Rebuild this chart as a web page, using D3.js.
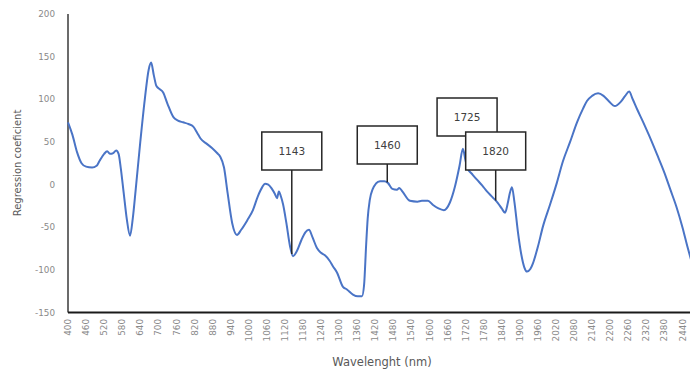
<!DOCTYPE html>
<html>
<head>
<meta charset="utf-8">
<script src="https://cdn.jsdelivr.net/npm/d3@7/dist/d3.min.js"></script>
<style>
  html, body { margin: 0; padding: 0; background: #ffffff; }
  svg { display: block; }
</style>
</head>
<body>
<div id="chart"></div>
<script>
// Regression coefficients across the NIR spectrum
const wavelengths = [
  400, 415, 430, 445, 460, 480, 495, 505, 520, 530, 540, 550, 560, 568, 575, 585, 595, 606, 615, 625,
  640, 655, 668, 676, 685, 693, 700, 716, 730, 750, 765, 782, 800, 816, 830, 840, 860, 878, 895, 905,
  918, 930, 945, 961, 975, 995, 1014, 1030, 1045, 1054, 1065, 1077, 1087, 1094, 1100, 1107, 1114, 1125, 1137, 1147,
  1160, 1175, 1188, 1200, 1212, 1226, 1240, 1253, 1268, 1280, 1293, 1313, 1326, 1346, 1362, 1376, 1383, 1390, 1395, 1402,
  1412, 1422, 1436, 1450, 1462, 1477, 1492, 1500, 1510, 1535, 1560, 1575, 1595, 1612, 1630, 1648, 1668, 1685, 1700, 1711,
  1720, 1728, 1740, 1757, 1775, 1791, 1810, 1828, 1840, 1851, 1860, 1867, 1874, 1882, 1894, 1905, 1915, 1924, 1935, 1944,
  1960, 1977, 2000, 2023, 2043, 2067, 2090, 2110, 2123, 2140, 2160, 2178, 2195, 2216, 2235, 2250, 2263, 2275, 2290, 2310,
  2330, 2356, 2380, 2400, 2420, 2440, 2456, 2470, 2490
];
const coefficients = [
  73, 58, 38, 25, 21, 20, 22, 28, 36, 39, 36, 37, 40, 36, 20, -10, -40, -60, -40, -5,
  50, 100, 135, 143, 128, 116, 113, 108, 95, 79, 75, 73, 71, 68, 60, 54, 48, 43, 37, 33,
  20, -10, -45, -59, -53, -42, -30, -14, -3, 1, 0, -5, -11, -16, -8, -14, -23, -45, -72, -84,
  -78, -65, -56, -53, -62, -74, -80, -83, -89, -96, -103, -120, -123, -129, -131, -131, -118, -70, -40, -18,
  -5, 1, 4, 4, 2, -5, -6, -4, -8, -19, -20, -19, -19, -24, -28, -30, -21, -2, 22, 42,
  28, 18, 13, 6, -1, -8, -15, -22, -28, -33, -22, -10, -3, -20, -56, -82, -97, -102, -99, -92,
  -73, -49, -24, 2, 27, 50, 73, 89, 98, 104, 107, 104, 98, 92, 97, 104, 109, 100, 88, 73,
  57, 35, 14, -6, -26, -50, -72, -90, -115
];

// Axis ticks
const xTicks = d3.range(400, 2441, 60);
const yTicks = [-150, -100, -50, 0, 50, 100, 150, 200];

// Annotated wavelengths
const calloutNm = [1143, 1460, 1725, 1820];
const calloutLabels = ["1143", "1460", "1725", "1820"];
const calloutBoxTop = [132, 126, 98, 132];

const W = 690, H = 375;
const svg = d3.select("#chart").append("svg")
  .attr("width", W).attr("height", H);

const x = d3.scaleLinear().domain([400, 2500]).range([68, 700.5]);
const y = d3.scaleLinear().domain([-150, 200]).range([312.5, 14]);

const textFont = "'DejaVu Sans', Verdana, sans-serif";

// Y tick labels
svg.append("g").selectAll("text").data(yTicks).join("text")
  .attr("x", 55)
  .attr("y", d => y(d))
  .attr("dy", "0.35em")
  .attr("text-anchor", "end")
  .attr("font-family", textFont)
  .attr("font-size", 8.8)
  .attr("fill", "#8a8a8a")
  .text(d => d);

// X tick labels, rotated
svg.append("g").selectAll("text").data(xTicks).join("text")
  .attr("transform", d => `translate(${x(d)},319) rotate(-90)`)
  .attr("dy", "0.35em")
  .attr("text-anchor", "end")
  .attr("font-family", textFont)
  .attr("font-size", 8.8)
  .attr("fill", "#8a8a8a")
  .text(d => d);

// Axis titles
svg.append("text")
  .attr("x", 382).attr("y", 366)
  .attr("text-anchor", "middle")
  .attr("font-family", textFont)
  .attr("font-size", 11.5)
  .attr("fill", "#595959")
  .text("Wavelenght (nm)");

svg.append("text")
  .attr("transform", "translate(21,163) rotate(-90)")
  .attr("text-anchor", "middle")
  .attr("font-family", textFont)
  .attr("font-size", 10)
  .attr("fill", "#595959")
  .text("Regression coeficient");

// Axis lines
svg.append("line")
  .attr("x1", x(400)).attr("x2", x(400))
  .attr("y1", y(200)).attr("y2", y(-150))
  .attr("stroke", "#3a3a3a").attr("stroke-width", 1.5);
svg.append("line")
  .attr("x1", x(400)).attr("x2", W)
  .attr("y1", y(-150)).attr("y2", y(-150))
  .attr("stroke", "#1a1a1a").attr("stroke-width", 2);

// Coefficient curve
const points = wavelengths.map((w, i) => [w, coefficients[i]]);
const line = d3.line()
  .x(d => x(d[0]))
  .y(d => y(d[1]))
  .curve(d3.curveMonotoneX);

const curve = svg.append("path")
  .datum(points)
  .attr("d", line)
  .attr("fill", "none")
  .attr("stroke", "#4a74c6")
  .attr("stroke-width", 2)
  .attr("stroke-linejoin", "round");

// Find the drawn curve's y at a given screen x
const pathNode = curve.node();
const total = pathNode.getTotalLength();
function curveYAt(px) {
  let lo = 0, hi = total;
  for (let k = 0; k < 40; k++) {
    const mid = (lo + hi) / 2;
    if (pathNode.getPointAtLength(mid).x < px) lo = mid; else hi = mid;
  }
  return pathNode.getPointAtLength((lo + hi) / 2).y;
}

// Callouts: leader line to the curve plus a boxed label
const boxW = 60, boxH = 38;
const callouts = svg.append("g");
calloutNm.forEach((nm, i) => {
  const cx = x(nm);
  const top = calloutBoxTop[i];
  const g = callouts.append("g");
  g.append("line")
    .attr("x1", cx).attr("x2", cx)
    .attr("y1", top + boxH).attr("y2", curveYAt(cx))
    .attr("stroke", "#262626").attr("stroke-width", 1.5);
  g.append("rect")
    .attr("x", cx - boxW / 2).attr("y", top)
    .attr("width", boxW).attr("height", boxH)
    .attr("fill", "#ffffff")
    .attr("stroke", "#262626").attr("stroke-width", 1.5);
  g.append("text")
    .attr("x", cx).attr("y", top + boxH / 2)
    .attr("dy", "0.35em")
    .attr("text-anchor", "middle")
    .attr("font-family", textFont)
    .attr("font-size", 10.5)
    .attr("fill", "#404040")
    .text(calloutLabels[i]);
});
</script>
</body>
</html>
